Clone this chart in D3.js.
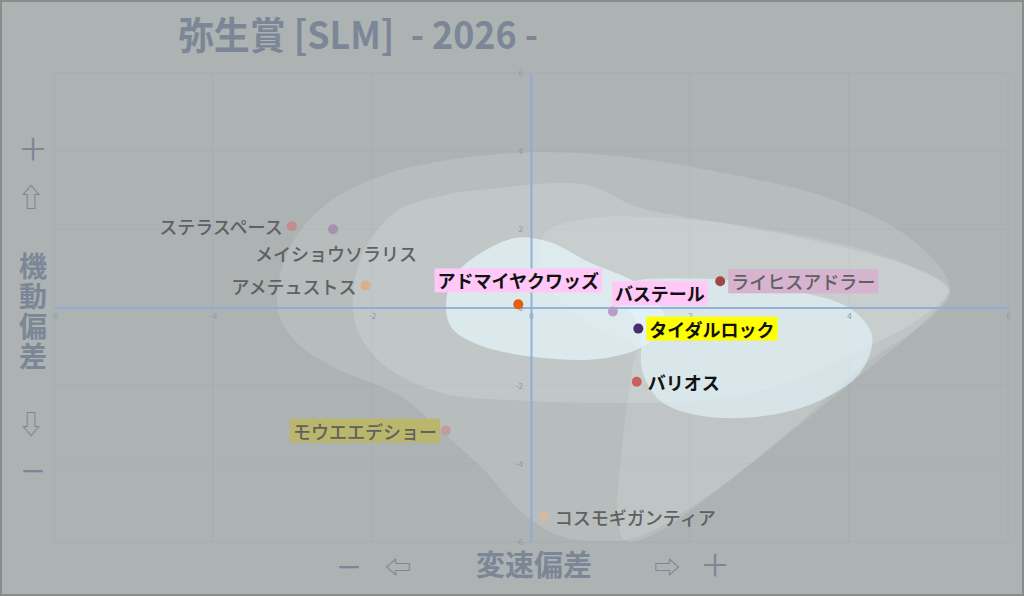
<!DOCTYPE html>
<html><head><meta charset="utf-8">
<script src="https://cdn.jsdelivr.net/npm/d3@7/dist/d3.min.js"></script>
<style>
html,body{margin:0;padding:0;background:#adb2b2;}
svg{display:block;}
text{font-family:"Noto Sans CJK JP","Noto Sans",sans-serif;}
</style></head>
<body>
<svg id="chart" width="1024" height="596"></svg>
<script>
// ---------- data ----------
const titleText = "弥生賞 [SLM]  - 2026 -";
const horses = ["ステラスペース","メイショウソラリス","アメテュストス","アドマイヤクワッズ","バステール","ライヒスアドラー","タイダルロック","バリオス","モウエエデショー","コスモギガンティア"];
const speedDev    = [-3.01, -2.49, -2.08, -0.16, 1.03, 2.38, 1.35, 1.33, -1.07, 0.16];
const mobilityDev = [ 2.08,  2.00,  0.56,  0.08, -0.10, 0.67, -0.54, -1.90, -3.15, -5.36];
const pointColors = ["#c48c8c","#a88fb0","#d9b08c","#e06010","#b8a0c4","#a04848","#4c2c6c","#c86060","#c49c9c","#d8b8a0"];
const labelColors = ["#606060","#606060","#606060","#111111","#111111","#606060","#111111","#111111","#606060","#606060"];
const labelBoxes  = [null,null,null,"#ffc8f8","#ffc8f8","#d6b3cf","#ffff00",null,"#bab76d",null];
const labelSide   = ["left","below","left","above","aboveRight","right","right","right","left","right"];
const xTicks = [-6,-4,-2,0,2,4,6];
const yTicks = [-6,-4,-2,0,2,4,6];

// density contour outlines (data units)
const contourOuter = [[-3.19,0],[-3.05,1.46],[-2.59,2.62],[-1.90,3.36],[-1.14,3.74],[0,3.97],[1.12,3.87],[2.38,3.46],[3.76,2.79],[4.77,1.77],[5.27,0.49],[4.89,-0.46],[4.14,-1.74],[3.13,-3.41],[2.13,-4.95],[1.37,-5.85],[0.85,-5.98],[0.30,-5.8],[-0.14,-5.2],[-0.58,-4.18],[-1.14,-3.15],[-1.65,-2.26],[-2.47,-1.54],[-2.97,-0.85]];
const contourMiddle = [[-2.24,0],[-2.13,1.33],[-1.71,2.44],[-1.14,2.85],[-0.53,3.03],[0.68,3.15],[1.37,2.55],[2.50,2.13],[3.76,1.62],[4.83,1.0],[5.25,0.44],[4.89,-0.28],[4.14,-1.10],[3.13,-2.0],[2.13,-2.38],[0.87,-2.44],[-0.14,-2.38],[-1.14,-2.18],[-1.84,-1.49],[-2.15,-0.72]];
const contourBand = [[0.18,1.92],[0.74,2.28],[1.28,2.33],[2.48,2.15],[3.69,1.72],[4.59,1.21],[5.27,0.44],[5.02,-0.28],[4.26,-1.36],[3.26,-3.15],[2.25,-4.82],[1.50,-5.85],[1.18,-5.97],[1.09,-5.46],[1.14,-3.67],[1.27,-1.62],[1.31,-0.97],[0.87,-0.59],[0.36,0.18],[0.11,1.08]];
const contourCoreLeft = [[-1.07,0.05],[-0.96,0.82],[-0.58,1.46],[-0.16,1.79],[0.24,1.67],[0.74,1.15],[1.37,0.56],[1.69,-0.33],[1.43,-0.97],[0.87,-1.31],[0.11,-1.28],[-0.64,-0.97],[-0.99,-0.54]];
const contourCoreRight = [[1.12,0.50],[2.13,0.74],[3.26,0.45],[4.01,-0.02],[4.29,-0.72],[4.14,-1.67],[3.57,-2.44],[2.88,-2.79],[2.13,-2.77],[1.62,-2.38],[1.40,-1.62],[1.37,-0.59]];

// ---------- drawing ----------
const svg = d3.select("#chart");
const W = 1024, H = 596;
const x = d3.scaleLinear().domain([-6,6]).range([54,1008]);
const y = d3.scaleLinear().domain([-6,6]).range([542,73]);
const slate = "#7b8696";

svg.append("rect").attr("x",0).attr("y",0).attr("width",W).attr("height",H).attr("fill","#adb2b2");
svg.append("rect").attr("x",1).attr("y",1).attr("width",W-2).attr("height",H-2)
   .attr("fill","none").attr("stroke","#8a8c8c").attr("stroke-width",2);

// grid
const grid = svg.append("g").attr("stroke","rgba(150,160,195,0.22)").attr("stroke-width",1);
xTicks.forEach(t=>grid.append("line").attr("x1",x(t)).attr("x2",x(t)).attr("y1",y(-6)).attr("y2",y(6)));
yTicks.forEach(t=>grid.append("line").attr("y1",y(t)).attr("y2",y(t)).attr("x1",x(-6)).attr("x2",x(6)));

// contours
const blob = d3.line().x(d=>x(d[0])).y(d=>y(d[1])).curve(d3.curveCatmullRomClosed.alpha(0.5));
const cg = svg.append("g");
cg.append("path").attr("d",blob(contourOuter)).attr("fill","#ffffff").attr("fill-opacity",0.13);
cg.append("path").attr("d",blob(contourMiddle)).attr("fill","#ffffff").attr("fill-opacity",0.15);
cg.append("path").attr("d",blob(contourBand)).attr("fill","#ffffff").attr("fill-opacity",0.12);
cg.append("path").attr("d",blob(contourCoreLeft)).attr("fill","#e4f6fb").attr("fill-opacity",0.72);
cg.append("path").attr("d",blob(contourCoreRight)).attr("fill","#e4f6fb").attr("fill-opacity",0.62);

// axes
const axisColor = "#8eaad6";
const xAxis = svg.append("g").attr("transform",`translate(0,${y(0)})`)
  .call(d3.axisBottom(x).tickValues(xTicks).tickSize(0).tickSizeOuter(0).tickPadding(6).tickFormat(d=>String(d)));
const yAxis = svg.append("g").attr("transform",`translate(${x(0)},0)`)
  .call(d3.axisLeft(y).tickValues(yTicks).tickSize(0).tickSizeOuter(0).tickPadding(8).tickFormat(d=>String(d)));
[xAxis,yAxis].forEach(a=>{
  a.select(".domain").attr("stroke",axisColor).attr("stroke-width",2).attr("stroke-opacity",0.9);
  a.selectAll("text").attr("fill","#8a97ad").attr("font-size",8).attr("font-family","Roboto, sans-serif");
});

// points + labels
const layer = svg.append("g");
horses.forEach((name,i)=>{
  const px = x(speedDev[i]), py = y(mobilityDev[i]);
  const g = layer.append("g");
  let tx=px, ty=py, anchor="start";
  switch(labelSide[i]){
    case "left": tx=px-9; anchor="end"; break;
    case "right": tx=px+11; anchor="start"; break;
    case "below": tx=px+3; ty=py+24; anchor="middle"; break;
    case "above": tx=px; ty=py-24; anchor="middle"; break;
    case "aboveRight": tx=px+2; ty=py-18; anchor="start"; break;
  }
  const t = g.append("text").attr("x",tx).attr("y",ty).attr("text-anchor",anchor)
    .attr("dominant-baseline","central").attr("font-size",18)
    .attr("font-weight", labelColors[i]==="#111111" ? 700 : 500)
    .attr("fill",labelColors[i]).text(name);
  if(labelBoxes[i]){
    const b = t.node().getBBox();
    g.insert("rect","text").attr("x",b.x-3).attr("y",b.y+1).attr("width",b.width+6).attr("height",b.height-2)
      .attr("fill",labelBoxes[i]);
  }
  layer.append("circle").attr("cx",px).attr("cy",py).attr("r",5).attr("fill",pointColors[i]);
});

// title
svg.append("text").attr("x",178).attr("y",49).attr("font-size",38).attr("font-weight",700)
  .attr("fill",slate).attr("textLength",360).attr("lengthAdjust","spacingAndGlyphs")
  .attr("xml:space","preserve").style("white-space","pre").text(titleText);

// axis captions
const cap = (txt,cx,cy,size,fam)=>svg.append("text").attr("x",cx).attr("y",cy)
  .attr("text-anchor","middle").attr("dominant-baseline","central")
  .attr("font-size",size).attr("fill",slate).attr("font-family",fam||null).text(txt);
cap("＋",33,147,30);
cap("⇧",31,195,26,"DejaVu Sans");
["機","動","偏","差"].forEach((c,k)=>cap(c,33,265+k*30,28).attr("font-weight",700));
cap("⇩",31,422,26,"DejaVu Sans");
cap("—",33,467,24,"DejaVu Sans").attr("font-weight",700);
cap("—",349,563,24,"DejaVu Sans").attr("font-weight",700);
cap("⇦",398,565,26,"DejaVu Sans");
cap("変速偏差",534,563,29).attr("font-weight",700);
cap("⇨",667,565,26,"DejaVu Sans");
cap("＋",715,563,30);
</script>
</body></html>
